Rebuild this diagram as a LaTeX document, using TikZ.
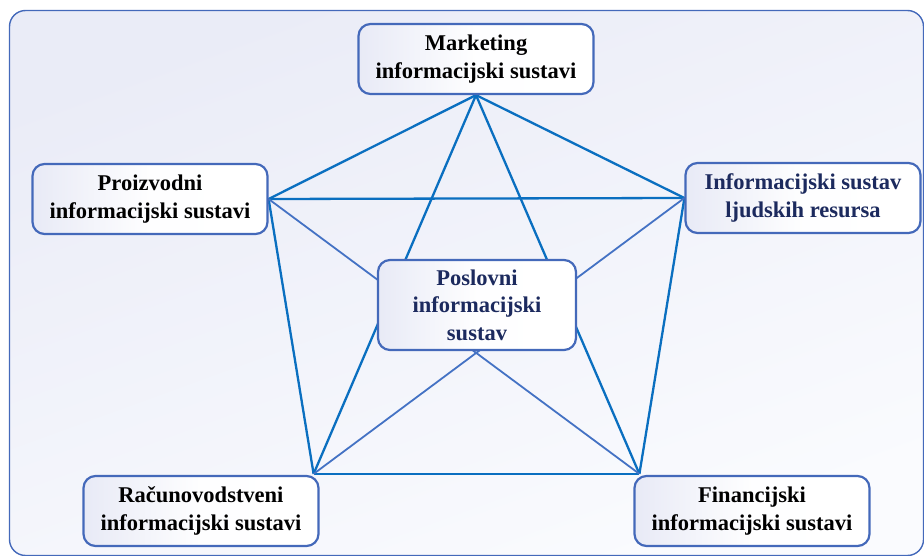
\documentclass[tikz,border=0pt]{standalone}
\usepackage{fontspec}
\setmainfont{Liberation Serif}
\definecolor{thickc}{HTML}{0A6FC0}
\definecolor{thinc}{HTML}{4472C4}
\definecolor{boxline}{HTML}{4469BA}
\definecolor{navy}{HTML}{1C2A5E}
\definecolor{lav}{HTML}{E8EAF6}
\definecolor{bgtop}{HTML}{EAECF7}
\definecolor{bgbot}{HTML}{FAFBFE}
\pgfdeclarelayer{bg}\pgfdeclarelayer{lines}\pgfsetlayers{bg,lines,main}
\begin{document}
\begin{tikzpicture}[x=1pt,y=-1pt,
  sysbox/.style={draw=boxline, line width=2.2pt, rounded corners=12pt,
    left color=lav, right color=white, middle color=white!96!lav,
    minimum width=235pt, minimum height=70pt,
    align=center, inner sep=0pt, font=\fontsize{22.5}{27.5}\selectfont\bfseries},
  thickline/.style={draw=thickc, line width=2.3pt},
  thinline/.style={draw=thinc, line width=1.8pt}]
\useasboundingbox (0,0) rectangle (924,556);
\begin{pgfonlayer}{bg}
  \draw[draw=boxline, line width=1.4pt, rounded corners=16pt,
    top color=bgtop, bottom color=bgbot, shading angle=20]
    (9.5,10.5) rectangle (923.5,555.5);
\end{pgfonlayer}
\node[sysbox] (mkt) at (476,59) {Marketing\\informacijski sustavi};
\node[sysbox] (pro) at (150,199) {Proizvodni\\informacijski sustavi};
\node[sysbox, text=navy] (hr) at (803,198) {Informacijski sustav\\ljudskih resursa};
\node[sysbox, text=navy, minimum width=198pt, minimum height=90pt] (pis) at (477,305) {Poslovni\\informacijski\\sustav};
\node[sysbox] (rac) at (201,511) {Računovodstveni\\informacijski sustavi};
\node[sysbox] (fin) at (752,511) {Financijski\\informacijski sustavi};
\coordinate (racp) at ([xshift=-6pt,yshift=1pt]rac.north east);
\coordinate (finp) at ([xshift=6pt,yshift=1pt]fin.north west);
\begin{pgfonlayer}{lines}
  \draw[thickline] (mkt.south) -- (pro.east);
  \draw[thickline] (mkt.south) -- (hr.west);
  \draw[thickline] (pro.east) -- (racp);
  \draw[thickline] (hr.west) -- (finp);
  \draw[thickline] (racp) -- (finp);
  \draw[thickline] (pro.east) -- (hr.west);
  \draw[thickline] (mkt.south) -- (racp);
  \draw[thickline] (mkt.south) -- (finp);
  \draw[thinline] (pro.east) -- (finp);
  \draw[thinline] (hr.west) -- (racp);
\end{pgfonlayer}
\end{tikzpicture}
\end{document}
